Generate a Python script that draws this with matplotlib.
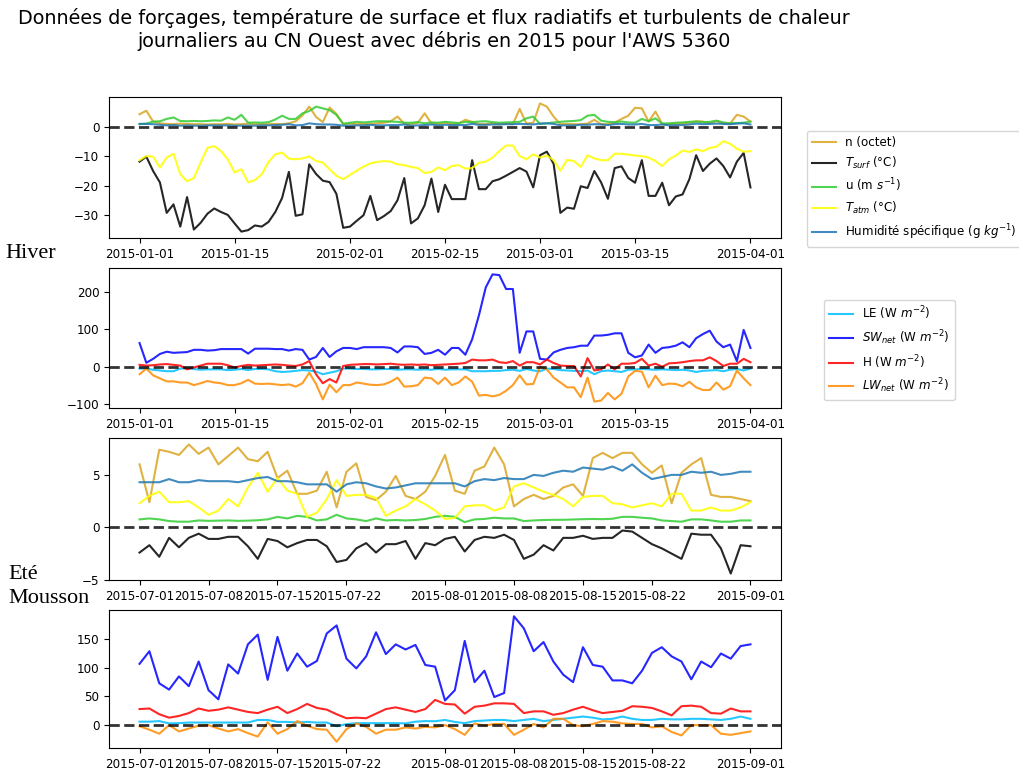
import matplotlib
matplotlib.use("Agg")
import matplotlib.pyplot as plt
import matplotlib.dates as mdates
import pandas as pd

# ---------------- data ----------------
dates_hiver = pd.date_range("2015-01-01", "2015-04-01", freq="D")
dates_ete = pd.date_range("2015-07-01", "2015-09-01", freq="D")

n_hiver = [4.4, 5.6, 1.9, 1.3, 1.1, 1.0, 1.2, 1.1, 1.0, 1.0, 0.9, 1.0, 1.0, 1.1, 0.9, 1.0, 1.2, 1.0, 1.0, 1.0,
           1.1, 1.0, 1.3, 2.0, 4.0, 7.0, 3.5, 1.7, 6.7, 4.5, 1.1, 1.2, 1.0, 1.1, 1.0, 1.3, 1.5, 2.0, 3.6, 1.2,
           1.0, 1.5, 4.7, 1.3, 1.0, 1.5, 1.0, 1.2, 2.5, 1.8, 1.0, 1.0, 1.3, 1.0, 1.2, 1.0, 6.2, 1.2, 1.5, 8.1,
           7.0, 3.6, 1.0, 1.1, 1.0, 1.0, 1.2, 2.5, 1.0, 1.0, 1.5, 2.8, 3.9, 6.6, 6.4, 1.9, 5.3, 1.1, 1.0, 1.2,
           1.3, 1.5, 2.0, 1.9, 1.3, 2.1, 1.3, 1.2, 4.2, 3.6, 1.9]
tsurf_hiver = [-11.8, -10.1, -15, -18.9, -29.3, -26.4, -34, -23.9, -35, -32.7, -29.6, -27.8, -29, -30, -32.9,
               -35.7, -35.2, -33.6, -34, -32.4, -29, -24.2, -15.3, -30.3, -29.8, -12.7, -16, -18.3, -18.8, -22.8,
               -34.4, -34, -32, -30.1, -23.5, -31.8, -30.4, -28.7, -25, -17.4, -32.9, -31.2, -26.7, -17.6, -29,
               -19.7, -24.6, -24.6, -24.6, -11.3, -21.2, -21.2, -18.5, -17.8, -16.6, -15.3, -14, -15.2, -20.6,
               -9.6, -8.4, -12.5, -29.3, -27.5, -27.9, -20.2, -20.8, -15, -18.9, -24.5, -14, -13.4, -17.4, -19,
               -11.3, -23.5, -23.5, -19, -26.7, -23.7, -23, -17.8, -9.6, -15, -12.5, -10.7, -13.3, -17.2, -11.8,
               -8.8, -20.6]
u_hiver = [1.0, 1.2, 1.9, 2.0, 2.8, 3.3, 2.1, 2.0, 2.1, 2.0, 2.1, 2.3, 2.2, 3.3, 2.5, 4.2, 1.5, 1.6, 1.5, 1.7,
           2.6, 3.9, 2.8, 2.8, 4.7, 5.5, 7.0, 6.4, 5.8, 4.2, 1.1, 1.5, 1.8, 1.6, 1.8, 2.0, 2.0, 1.9, 1.8, 1.5,
           1.5, 1.7, 1.3, 1.6, 1.5, 1.8, 1.6, 1.4, 1.8, 1.7, 1.9, 2.0, 1.7, 1.5, 1.6, 1.7, 1.8, 3.0, 3.6, 1.1,
           1.3, 1.6, 1.8, 2.0, 2.1, 2.4, 3.9, 4.2, 2.2, 1.8, 1.7, 1.9, 1.6, 1.5, 2.8, 2.0, 3.0, 1.2, 1.3, 1.5,
           1.6, 1.8, 1.9, 1.7, 1.8, 2.2, 1.6, 1.3, 1.4, 1.5, 1.9]
tatm_hiver = [-11.3, -9.9, -10.1, -13.8, -10.4, -9.1, -16.1, -18.5, -17.4, -12.1, -7.1, -6.5, -8.2, -11, -15.5,
              -14.4, -18.9, -18.1, -16.1, -11.9, -9.3, -8.7, -10.8, -11, -10.7, -10, -11.6, -12.1, -14.4, -16.6,
              -17.8, -16.3, -14.9, -13.5, -12.4, -11.9, -11.6, -11.8, -12.7, -13, -13.6, -14, -15.7, -15.3,
              -13.8, -14.7, -13.3, -13, -14.2, -14, -12.2, -11.8, -10.4, -8.2, -6.3, -6.3, -9.9, -11, -9.3,
              -10.4, -9.7, -11.3, -14.9, -11.2, -11.6, -13.6, -9.6, -10.7, -11.3, -11.3, -9.1, -9.1, -9.4, -9.7,
              -9.9, -10.4, -11.6, -13.3, -11, -9.7, -8, -8.5, -7.6, -8.2, -7.1, -6.7, -4.8, -5.7, -7.4, -8.4,
              -8.2]
hum_hiver = [1.1, 1.1, 1.0, 0.8, 0.6, 0.7, 0.5, 0.6, 0.5, 0.5, 0.6, 0.6, 0.6, 0.6, 0.5, 0.5, 0.5, 0.5, 0.6, 0.6,
             0.7, 0.8, 1.0, 0.6, 0.7, 1.3, 1.0, 0.9, 0.9, 0.8, 0.5, 0.5, 0.6, 0.6, 0.8, 0.6, 0.6, 0.7, 0.7, 0.9,
             0.5, 0.6, 0.7, 0.9, 0.6, 0.8, 0.7, 0.7, 0.7, 1.1, 0.8, 0.8, 0.9, 0.9, 1.0, 1.0, 1.1, 1.0, 0.9, 1.2,
             1.3, 1.1, 0.6, 0.6, 0.6, 0.8, 0.8, 1.0, 0.9, 0.7, 1.0, 1.1, 0.9, 0.9, 1.1, 0.7, 0.7, 0.9, 0.6, 0.7,
             0.7, 0.9, 1.2, 1.0, 1.1, 1.2, 1.1, 1.0, 1.2, 1.3, 0.9]

le_hiver = [-5, -5, -8, -10, -12, -12, -5, -4, -6, -8, -7, -7, -7, -9, -8, -6, -9, -6, -6, -7, -12, -14, -13,
            -11, -9, -10, -13, -20, -16, -12, -5, -5, -6, -6, -7, -7, -6, -6, -8, -7, -7, -8, -7, -8, -6, -8,
            -7, -7, -7, -12, -12, -12, -11, -11, -9, -8, -11, -6, -10, -12, -5, -6, -9, -10, -11, -12, -10,
            -20, -12, -10, -12, -14, -8, -7, -6, -7, -8, -7, -8, -9, -8, -10, -14, -11, -10, -9, -12, -8, -6,
            -10, -5]
sw_hiver = [63, 10.5, 21, 34, 40, 37, 38, 39, 45, 45, 43, 44, 47, 47, 47, 47, 35, 48, 48, 48, 47, 47, 43, 47,
            45, 19, 26, 50, 26, 41, 50, 50, 47, 52, 52, 52, 52, 50, 38, 54, 54, 52, 34, 37, 45, 32, 50, 50, 32,
            73, 137, 211, 246, 244, 207, 207, 37, 94, 94, 21, 19, 38, 45, 50, 52, 56, 56, 83, 83, 85, 89, 89,
            37, 25, 30, 59, 37, 50, 52, 56, 65, 52, 76, 87, 96, 67, 52, 59, 15, 98, 50]
h_hiver = [5, 3, 4, 6, 7, 5, 3, -7, -2, 3, 8, 8, 8, 4, -2, 2, 5, 3, 4, 5, 6, 5, 3, 2, 6, 15, -20, -44, -33,
           -42, 2, 5, 6, 7, 7, 6, 7, 8, 6, 5, 6, 5, 6, 4, 5, 6, 7, 8, 10, 19, 17, 17, 19, 12, 10, 15, 3, 12, 12,
           6, 19, 10, 3, 2, 2, -26, 23, -10, -7, 6, -7, 8, 8, 10, 21, 3, 8, 0, 9, 10, 12, 15, 17, 17, 25, 15, 2,
           8, 8, 21, 12]
lw_hiver = [-20, -5, -23, -31, -39, -39, -42, -42, -49, -44, -38, -42, -44, -49, -49, -44, -35, -45, -46, -45,
            -47, -49, -47, -53, -44, -16, -46, -87, -48, -68, -49, -49, -42, -45, -48, -49, -47, -40, -29, -53,
            -52, -49, -29, -31, -46, -29, -49, -42, -26, -40, -77, -75, -79, -75, -64, -49, -23, -47, -46, 0,
            -7, -29, -42, -55, -55, -81, -29, -93, -90, -70, -87, -72, -26, -11, -13, -55, -24, -49, -45, -46,
            -52, -40, -55, -62, -62, -42, -61, -52, -10, -31, -49]

n_ete = [6, 2.4, 7.4, 7.2, 6.9, 7.9, 7, 7.6, 6, 6.8, 7.6, 6.5, 6.3, 7.2, 4.7, 5.4, 3.2, 3.2, 3.5, 5.3, 1.9,
         5.3, 6.1, 2.9, 2.6, 3.4, 4.9, 3, 2.7, 3.4, 4.9, 6.9, 3.5, 3.2, 5.4, 5.8, 7.6, 6, 2, 2.7, 3.1, 2.7, 3,
         3.8, 4.1, 3, 6.6, 7.1, 6.6, 7.1, 7.1, 6, 5.2, 5.9, 2.3, 5.2, 6, 6.6, 3.1, 2.9, 2.9, 2.7, 2.5]
tsurf_ete = [-2.4, -1.7, -2.8, -1, -1.9, -1, -0.6, -1.1, -1.1, -0.9, -0.9, -1.8, -3, -1.1, -1.3, -1.9, -1.5,
             -1.2, -1.2, -1.8, -3.3, -3.1, -2, -1.5, -2.4, -1.6, -1.6, -1.3, -3, -1.5, -1.7, -1.1, -0.9, -2.3,
             -1.2, -0.9, -1, -0.7, -1.2, -3, -2.6, -1.7, -2.2, -1, -1, -0.8, -1.1, -1, -1, -0.3, -0.4, -1, -1.6,
             -2, -2.5, -3, -0.6, -0.7, -0.7, -2, -4.4, -1.7, -1.8]
u_ete = [0.76, 0.85, 0.76, 0.6, 0.54, 0.54, 0.66, 0.62, 0.64, 0.66, 0.62, 0.64, 0.68, 0.76, 1.0, 0.85, 1.1,
         1.0, 0.66, 0.76, 1.2, 0.85, 0.76, 0.6, 0.85, 0.66, 0.7, 0.66, 0.7, 0.8, 1.0, 1.1, 1.0, 0.5, 0.76, 0.8,
         0.92, 0.85, 0.85, 0.6, 0.66, 0.7, 0.72, 0.72, 0.75, 0.78, 0.8, 0.78, 0.82, 1.0, 1.0, 0.92, 0.85, 0.66,
         0.6, 0.54, 0.76, 0.76, 0.66, 0.54, 0.54, 0.66, 0.66]
tatm_ete = [2.3, 3, 3.4, 2.4, 2.4, 2.5, 1.9, 1.2, 1.6, 2.7, 2, 3.8, 5.2, 3.4, 4.7, 3.5, 3.2, 1, 1.4, 2.7, 4.5,
            3, 3.1, 3.1, 2.8, 1.1, 1.6, 2, 2.7, 2.2, 1.6, 0.8, 0.9, 2, 2.1, 2.1, 1.6, 1.9, 3.9, 4.2, 3.8, 3.4,
            3.1, 2.7, 2, 2.9, 3, 3, 2.3, 2.2, 1.9, 2.1, 2.3, 2, 3.2, 3.2, 1.6, 1.6, 1.9, 1.6, 1.6, 1.9, 2.4]
hum_ete = [4.3, 4.3, 4.3, 4.6, 4.3, 4.3, 4.5, 4.4, 4.4, 4.4, 4.3, 4.5, 4.7, 4.8, 4.4, 4.4, 4.3, 4.1, 4.1, 4.1,
           3.4, 4.1, 4.3, 4.2, 3.9, 3.7, 3.8, 4.0, 4.2, 4.2, 4.2, 4.2, 4.2, 3.9, 4.4, 4.6, 4.5, 4.7, 4.6, 4.6,
           5.0, 4.9, 5.2, 5.4, 5.3, 5.7, 5.6, 5.5, 5.8, 5.4, 6.0, 5.2, 4.6, 4.8, 5.0, 5.0, 5.3, 5.2, 5.3, 5.0,
           5.1, 5.3, 5.3]

le_ete = [6, 6, 7, 3, 3.4, 4.5, 4.5, 4.5, 4.5, 4.5, 4.5, 4.5, 9, 9, 5.6, 5.6, 4.5, 5.6, 4.5, 4.5, -2, 1.7,
          3.4, 3.4, 3.4, 3.4, 3.4, 3, 6, 7, 6.8, 9, 5.6, 3.4, 7, 8, 9, 9, 7, 9, 11, 7, 9, 11, 13, 15, 13, 10,
          11, 15, 11, 9, 9, 11, 10, 10, 11, 11, 10, 9, 11, 15, 11]
sw_ete = [107, 129, 73, 62, 85, 68, 111, 61, 45, 106, 90, 141, 158, 79, 154, 95, 125, 102, 112, 160, 174,
          116, 99, 120, 162, 124, 141, 132, 140, 105, 102, 43, 61, 147, 75, 95, 49, 56, 190, 169, 129, 145,
          111, 88, 75, 136, 105, 102, 78, 78, 73, 95, 126, 136, 120, 111, 80, 111, 101, 125, 116, 138, 141]
h_ete = [28, 29, 19, 13, 16, 21, 29, 25, 27, 31, 27, 23, 21, 27, 32, 21, 28, 37, 30, 27, 19, 12, 13, 12, 20,
         28, 31, 27, 23, 28, 44, 37, 36, 20, 32, 34, 38, 38, 37, 21, 24, 24, 18, 21, 27, 32, 26, 21, 23, 25,
         33, 32, 30, 24, 17, 33, 34, 32, 21, 20, 29, 24, 24]
lw_ete = [-2, -8, -15, 0, -11, -6, -1, 0, -6, -11, -7, -14, -20, 5, -15, -7, 7, -1, -7, -8, -29, -7, 3, -3,
          -15, -8, -8, -4, -6, -3, -4, 0, -7, -17, 3, -1, 2, 2, -17, -8, 2, -4, 11, 11, 0, -2, 2, 7, 6, 3, 2,
          2, -4, -2, -12, -18, 0, 0, 0, -15, -17, -14, -11]

labels_meteo = ["n (octet)", r"$T_{surf}$ (°C)", r"u (m $s^{-1}$)", r"$T_{atm}$ (°C)",
                r"Humidité spécifique (g $kg^{-1}$)"]
colors_meteo = ["goldenrod", "black", "limegreen", "yellow", "tab:blue"]
labels_flux = [r"LE (W $m^{-2}$)", r"$SW_{net}$ (W $m^{-2}$)", r"H (W $m^{-2}$)", r"$LW_{net}$ (W $m^{-2}$)"]
colors_flux = ["deepskyblue", "blue", "red", "darkorange"]

title = ("Données de forçages, température de surface et flux radiatifs et turbulents de chaleur\n"
         "journaliers au CN Ouest avec débris en 2015 pour l'AWS 5360")

# ---------------- figure ----------------
W, H = 1019, 770
fs = 8.6
plt.rcParams["xtick.labelsize"] = fs
plt.rcParams["ytick.labelsize"] = fs
plt.rcParams["legend.fontsize"] = fs
fig = plt.figure(figsize=(W / 100, H / 100), dpi=100)


def add_ax(top, bottom, left=109, right=781):
    return fig.add_axes([left / W, 1 - bottom / H, (right - left) / W, (bottom - top) / H])


ax1 = add_ax(97, 238)
ax2 = add_ax(268, 408)
ax3 = add_ax(438, 580)
ax4 = add_ax(610, 748)

meteo_h = [n_hiver, tsurf_hiver, u_hiver, tatm_hiver, hum_hiver]
meteo_e = [n_ete, tsurf_ete, u_ete, tatm_ete, hum_ete]
flux_h = [le_hiver, sw_hiver, h_hiver, lw_hiver]
flux_e = [le_ete, sw_ete, h_ete, lw_ete]

lw = 1.5
al = 0.85
handles_meteo = []
for vals, c, lab in zip(meteo_h, colors_meteo, labels_meteo):
    l, = ax1.plot(dates_hiver, vals, color=c, lw=lw, alpha=al, label=lab)
    handles_meteo.append(l)
for vals, c in zip(meteo_e, colors_meteo):
    ax3.plot(dates_ete, vals, color=c, lw=lw, alpha=al)

handles_flux = []
for vals, c, lab in zip(flux_h, colors_flux, labels_flux):
    l, = ax2.plot(dates_hiver, vals, color=c, lw=lw, alpha=al, label=lab)
    handles_flux.append(l)
for vals, c in zip(flux_e, colors_flux):
    ax4.plot(dates_ete, vals, color=c, lw=lw, alpha=al)

for ax in (ax1, ax2, ax3, ax4):
    ax.axhline(0, color="black", ls="--", lw=2, alpha=0.8)

for ax in (ax1, ax2):
    ax.xaxis.set_major_locator(mdates.DayLocator(bymonthday=[1, 15]))
    ax.xaxis.set_major_formatter(mdates.DateFormatter("%Y-%m-%d"))
for ax in (ax3, ax4):
    ax.xaxis.set_major_locator(mdates.DayLocator(bymonthday=[1, 8, 15, 22]))
    ax.xaxis.set_major_formatter(mdates.DateFormatter("%Y-%m-%d"))

ax1.set_yticks([-30, -20, -10, 0])
ax2.set_yticks([-100, 0, 100, 200])
ax3.set_yticks([-5, 0, 5])
ax4.set_yticks([0, 50, 100, 150])

fig.legend(handles=handles_meteo, loc="upper left", bbox_to_anchor=(807 / W, 1 - 131 / H),
           borderaxespad=0)
fig.legend(handles=handles_flux, loc="upper left", bbox_to_anchor=(824 / W, 1 - 300 / H),
           borderaxespad=0)

fig.text(434 / W, 1 - 8 / H, title, ha="center", va="top", fontsize=13.8)

fig.text(5 / W, 1 - 258 / H, "Hiver", family="Liberation Serif", fontsize=16, va="baseline")
fig.text(8 / W, 1 - 579 / H, "Eté", family="Liberation Serif", fontsize=16, va="baseline")
fig.text(8 / W, 1 - 603 / H, "Mousson", family="Liberation Serif", fontsize=16, va="baseline")

fig.savefig("out.png", dpi=100)
